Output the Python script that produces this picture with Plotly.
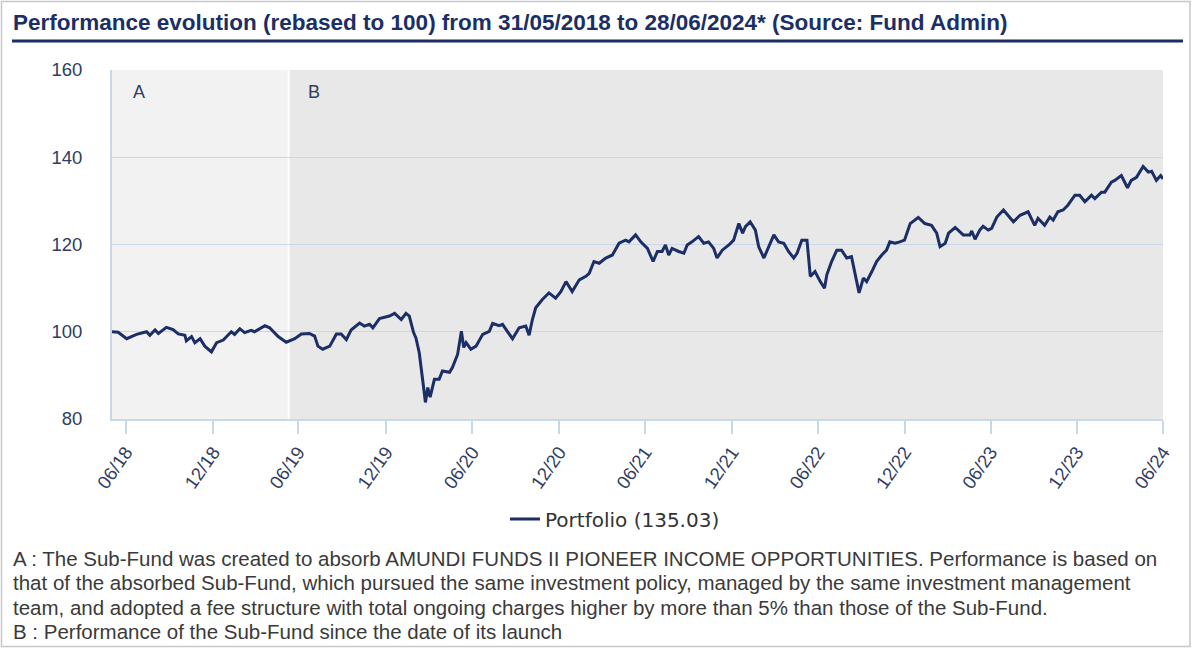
import plotly.graph_objects as go

# ---------------- data ----------------
dates = [
    "2018-05-31", "2018-06-13", "2018-07-01", "2018-07-22", "2018-08-12", "2018-08-19", "2018-08-30",
    "2018-09-06", "2018-09-23", "2018-10-07", "2018-10-18", "2018-11-01", "2018-11-04", "2018-11-15",
    "2018-11-22", "2018-12-03", "2018-12-13", "2018-12-27", "2019-01-07", "2019-01-21", "2019-02-07",
    "2019-02-14", "2019-02-25", "2019-03-07", "2019-03-21", "2019-03-28", "2019-04-19", "2019-04-29",
    "2019-05-17", "2019-06-03", "2019-06-21", "2019-07-05", "2019-07-22", "2019-08-02", "2019-08-09",
    "2019-08-19", "2019-09-03", "2019-09-17", "2019-09-27", "2019-10-08", "2019-10-18", "2019-11-05",
    "2019-11-15", "2019-11-26", "2019-12-03", "2019-12-17", "2020-01-07", "2020-01-18", "2020-02-01",
    "2020-02-11", "2020-02-18", "2020-02-27", "2020-03-03", "2020-03-10", "2020-03-17", "2020-03-23",
    "2020-03-28", "2020-04-02", "2020-04-11", "2020-04-21", "2020-04-28", "2020-05-13", "2020-05-19",
    "2020-05-30", "2020-06-07", "2020-06-12", "2020-06-17", "2020-06-27", "2020-07-08", "2020-07-22",
    "2020-08-05", "2020-08-12", "2020-08-26", "2020-09-02", "2020-09-12", "2020-09-23", "2020-10-07",
    "2020-10-21", "2020-10-28", "2020-11-04", "2020-11-11", "2020-11-25", "2020-12-09", "2020-12-23",
    "2021-01-03", "2021-01-14", "2021-01-27", "2021-02-11", "2021-02-25", "2021-03-04", "2021-03-14",
    "2021-03-25", "2021-04-08", "2021-04-22", "2021-05-06", "2021-05-20", "2021-05-27", "2021-06-10",
    "2021-06-21", "2021-07-05", "2021-07-17", "2021-07-26", "2021-08-05", "2021-08-12", "2021-08-19",
    "2021-08-26", "2021-09-09", "2021-09-20", "2021-09-27", "2021-10-07", "2021-10-21", "2021-11-01",
    "2021-11-11", "2021-11-22", "2021-11-29", "2021-12-10", "2021-12-24", "2022-01-03", "2022-01-14",
    "2022-01-22", "2022-01-28", "2022-02-07", "2022-02-18", "2022-02-25", "2022-03-08", "2022-03-18",
    "2022-03-29", "2022-04-08", "2022-04-19", "2022-04-29", "2022-05-10", "2022-05-17", "2022-05-27",
    "2022-06-07", "2022-06-14", "2022-06-24", "2022-07-05", "2022-07-14", "2022-07-19", "2022-07-29",
    "2022-08-09", "2022-08-19", "2022-08-30", "2022-09-09", "2022-09-16", "2022-09-25", "2022-10-04",
    "2022-10-11", "2022-10-22", "2022-11-01", "2022-11-12", "2022-11-22", "2022-11-29", "2022-12-10",
    "2022-12-20", "2022-12-30", "2023-01-11", "2023-01-28", "2023-02-11", "2023-02-25", "2023-03-08",
    "2023-03-15", "2023-03-26", "2023-04-02", "2023-04-16", "2023-05-03", "2023-05-17", "2023-05-21",
    "2023-05-28", "2023-06-07", "2023-06-14", "2023-06-25", "2023-07-02", "2023-07-13", "2023-07-27",
    "2023-08-06", "2023-08-17", "2023-08-31", "2023-09-17", "2023-10-01", "2023-10-08", "2023-10-22",
    "2023-11-02", "2023-11-09", "2023-11-19", "2023-11-30", "2023-12-10", "2023-12-25", "2024-01-04",
    "2024-01-15", "2024-01-29", "2024-02-05", "2024-02-19", "2024-02-26", "2024-03-11", "2024-03-18",
    "2024-04-01", "2024-04-14", "2024-04-22", "2024-05-03", "2024-05-17", "2024-05-28", "2024-06-04",
    "2024-06-14", "2024-06-23", "2024-06-28",
]
portfolio = [
    100.0, 99.9, 98.4, 99.4, 100.0, 99.2, 100.4,
    99.6, 101.0, 100.5, 99.5, 99.2, 97.9, 98.9,
    97.5, 98.4, 96.7, 95.4, 97.5, 98.1, 100.0,
    99.4, 100.7, 99.8, 100.3, 100.0, 101.4, 100.9,
    98.9, 97.6, 98.4, 99.5, 99.6, 99.0, 96.7,
    96.0, 96.7, 99.5, 99.5, 98.2, 100.4, 102.0,
    101.3, 101.7, 100.9, 103.0, 103.6, 104.2, 102.8,
    104.2, 103.6, 99.8, 98.6, 95.2, 89.1, 83.8,
    87.2, 85.0, 89.1, 89.1, 91.0, 90.7, 91.8,
    94.8, 100.1, 96.4, 97.5, 96.0, 96.7, 99.4,
    100.1, 101.9, 101.4, 101.7, 100.1, 98.4, 100.9,
    101.3, 99.2, 102.8, 105.5, 107.4, 108.9, 107.7,
    109.2, 111.5, 109.2, 111.9, 112.7, 113.4, 116.1,
    115.7, 116.9, 117.6, 120.3, 121.0, 120.6, 122.2,
    120.6, 119.1, 116.1, 118.4, 118.4, 119.9, 117.6,
    119.1, 118.4, 118.0, 119.9, 120.6, 121.8, 120.3,
    120.6, 119.1, 116.9, 118.7, 119.9, 121.0, 124.8,
    122.6, 124.1, 125.2, 123.3, 119.5, 116.9, 119.5,
    122.2, 120.6, 120.3, 118.4, 116.9, 118.0, 121.0,
    121.0, 112.7, 113.8, 111.5, 110.0, 113.1, 116.1,
    118.7, 118.7, 116.9, 117.2, 113.8, 108.9, 112.3,
    111.5, 113.8, 116.1, 117.6, 118.7, 120.6, 120.3,
    120.6, 121.0, 124.8, 126.2, 124.8, 124.4, 122.6,
    119.5, 120.3, 122.6, 123.9, 122.2, 122.2, 123.1,
    121.2, 123.3, 124.2, 123.3, 123.7, 126.3, 127.9,
    126.7, 125.2, 126.7, 127.5, 124.4, 126.0, 124.4,
    126.3, 125.6, 127.5, 127.9, 129.0, 131.3, 131.3,
    129.8, 131.3, 130.5, 132.0, 132.0, 134.3, 134.7,
    135.8, 133.0, 134.7, 135.4, 137.9, 136.6, 136.8,
    134.7, 135.8, 135.03,
]
series_name = "Portfolio (135.03)"

tick_dates = ["2018-06-29", "2018-12-31", "2019-06-28", "2019-12-31", "2020-06-30", "2020-12-31",
              "2021-06-30", "2021-12-31", "2022-06-30", "2022-12-30", "2023-06-30", "2023-12-29",
              "2024-06-28"]
tick_labels = ["06/18", "12/18", "06/19", "12/19", "06/20", "12/20", "06/21", "12/21",
               "06/22", "12/22", "06/23", "12/23", "06/24"]
y_ticks = [80, 100, 120, 140, 160]

period_start = "2018-05-31"
period_switch = "2019-06-08"   # start of period B
period_end = "2024-06-28"

title_text = "Performance evolution (rebased to 100) from 31/05/2018 to 28/06/2024* (Source: Fund Admin)"
footnotes = [
    "A : The Sub-Fund was created to absorb AMUNDI FUNDS II PIONEER INCOME OPPORTUNITIES. Performance is based on",
    "that of the absorbed Sub-Fund, which pursued the same investment policy, managed by the same investment management",
    "team, and adopted a fee structure with total ongoing charges higher by more than 5% than those of the Sub-Fund.",
    "B : Performance of the Sub-Fund since the date of its launch",
]

# ---------------- layout geometry (pixels) ----------------
W, H = 1193, 648
PL, PR, PT, PB = 112, 1163, 70, 419


def px_x(p):
    return (p - PL) / (PR - PL)


def px_y(p):
    return (PB - p) / (PB - PT)


FONT = "Liberation Sans, Arial, sans-serif"
WIDE = "DejaVu Sans, Verdana, sans-serif"
NAVY = "#1b2f66"
TXT = "#2f3d63"
GRID = "#c8d8e8"

fig = go.Figure()
fig.add_trace(go.Scatter(
    x=dates, y=portfolio, mode="lines", name=series_name,
    line=dict(color=NAVY, width=3), showlegend=True,
))

shapes = [
    dict(type="rect", xref="x", yref="paper", x0=period_start, x1=period_switch, y0=0, y1=1,
         fillcolor="#f2f2f2", line=dict(width=0), layer="below"),
    dict(type="rect", xref="x", yref="paper", x0=period_switch, x1=period_end, y0=0, y1=1,
         fillcolor="#e8e8e8", line=dict(width=0), layer="below"),
    dict(type="line", xref="x", yref="paper", x0=period_switch, x1=period_switch, y0=0, y1=1,
         line=dict(color="#ffffff", width=2), layer="below"),
    dict(type="line", xref="paper", yref="paper", x0=px_x(12), x1=px_x(1183), y0=px_y(41), y1=px_y(41),
         line=dict(color=NAVY, width=3)),
    dict(type="rect", xref="paper", yref="paper", x0=px_x(1.5), x1=px_x(1190), y0=px_y(646.5), y1=px_y(1.5),
         line=dict(color="#c8c8c8", width=1.5), fillcolor="rgba(0,0,0,0)"),
]

annotations = [
    dict(text="<b>" + title_text + "</b>", xref="paper", yref="paper", x=px_x(11), y=px_y(22),
         xanchor="left", yanchor="middle", showarrow=False, font=dict(family=FONT, size=22.5, color=NAVY)),
    dict(text="A", xref="paper", yref="paper", x=px_x(131), y=px_y(92), xanchor="left", yanchor="middle",
         showarrow=False, font=dict(family=FONT, size=18, color=TXT)),
    dict(text="B", xref="paper", yref="paper", x=px_x(306), y=px_y(92), xanchor="left", yanchor="middle",
         showarrow=False, font=dict(family=FONT, size=18, color=TXT)),
]
for i, line in enumerate(footnotes):
    annotations.append(dict(text=line, xref="paper", yref="paper", x=px_x(11), y=px_y(558 + 24.5 * i),
                            xanchor="left", yanchor="middle", showarrow=False,
                            font=dict(family=FONT, size=20.5, color="#3a3a3a")))

fig.update_layout(
    width=W, height=H,
    margin=dict(l=PL, r=W - PR, t=PT, b=H - PB, pad=0),
    paper_bgcolor="#ffffff", plot_bgcolor="#ebebeb",
    font=dict(family=FONT, size=18, color=TXT),
    shapes=shapes, annotations=annotations,
    legend=dict(orientation="h", x=px_x(615), y=px_y(519), xanchor="center", yanchor="middle",
                font=dict(family=WIDE, size=20, color="#333333"), bgcolor="rgba(0,0,0,0)",
                itemwidth=30),
    xaxis=dict(type="date", range=[period_start, period_end], tickmode="array",
               tickvals=tick_dates, ticktext=tick_labels, tickangle=-55,
               ticks="outside", ticklen=13, tickwidth=2, tickcolor=GRID,
               showline=True, linecolor=GRID, linewidth=2, showgrid=False, zeroline=False,
               tickfont=dict(family=FONT, size=18.5, color=TXT)),
    yaxis=dict(range=[80, 160], tickmode="array", tickvals=y_ticks, showgrid=True,
               gridcolor=GRID, gridwidth=1, showline=True, linecolor=GRID, linewidth=2,
               zeroline=False, ticks="", ticklabelstandoff=24,
               tickfont=dict(family=FONT, size=18.5, color=TXT)),
)

fig.write_html("out.html", config={"displayModeBar": False},
               post_script="document.body.style.margin='0';document.body.style.overflow='hidden';")
